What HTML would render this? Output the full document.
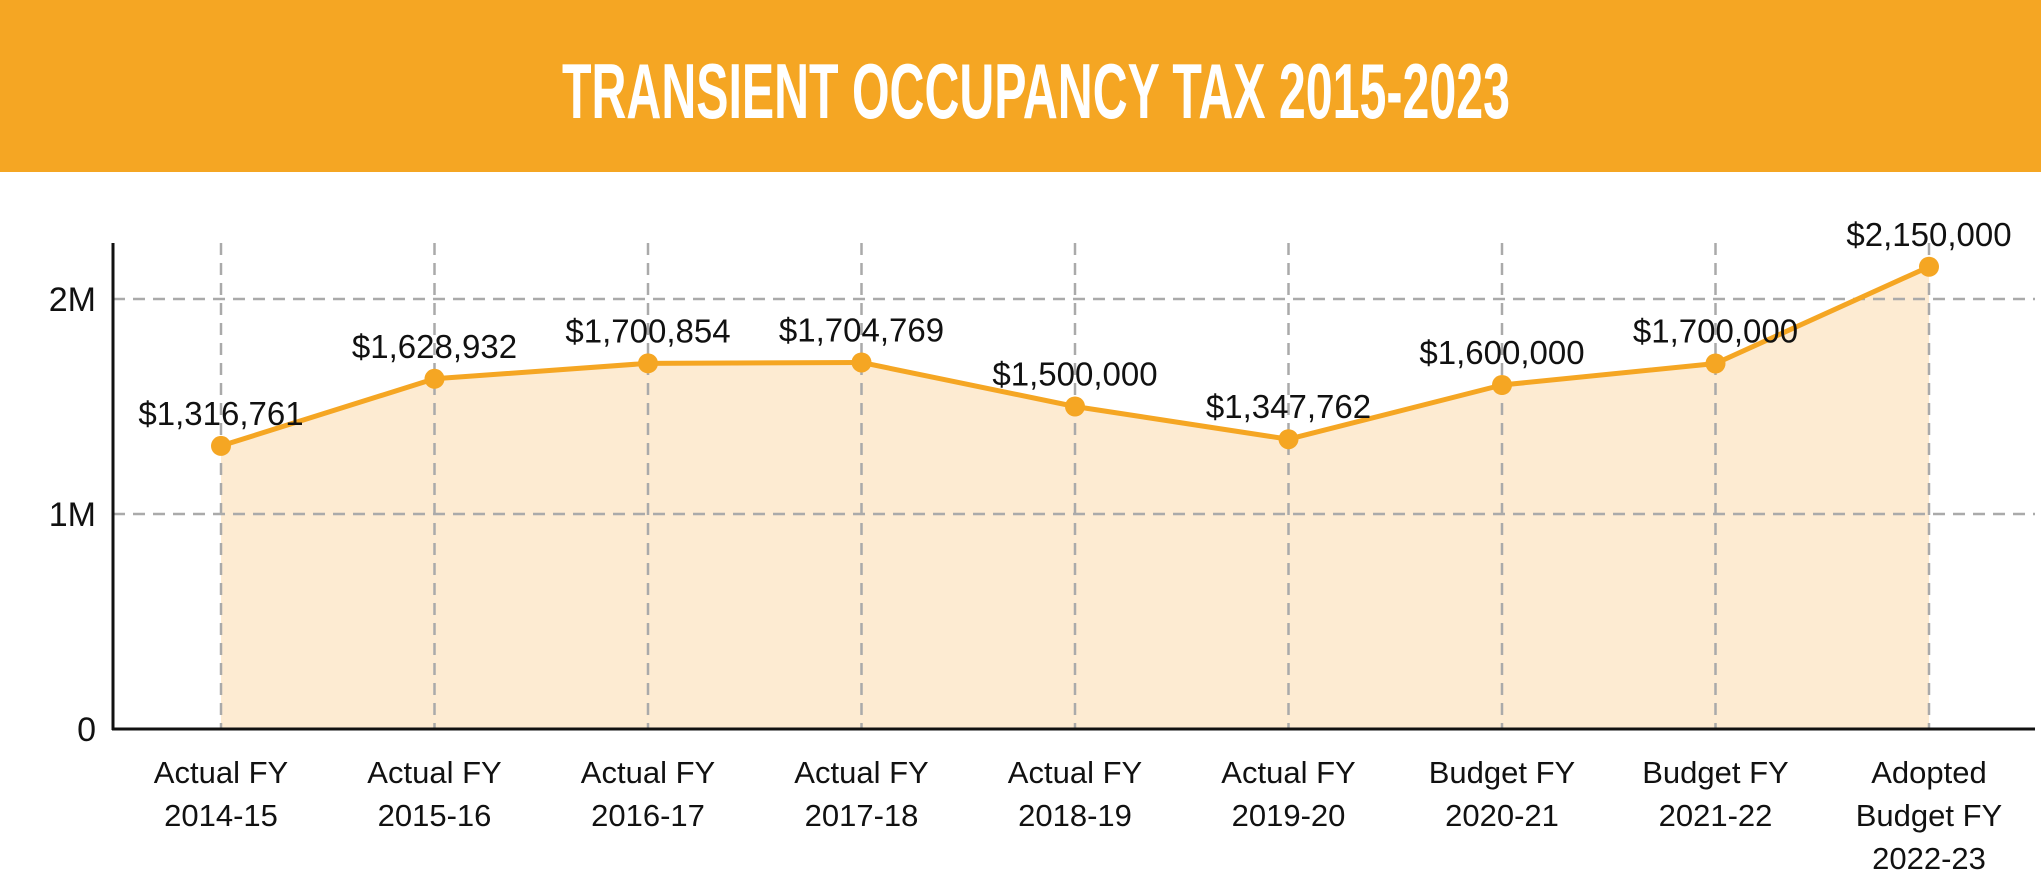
<!DOCTYPE html>
<html><head><meta charset="utf-8"><style>
html,body{margin:0;padding:0;background:#fff;}
svg{display:block;font-family:"Liberation Sans",sans-serif;}
</style></head><body>
<svg id="chart" width="2041" height="893" viewBox="0 0 2041 893" xmlns="http://www.w3.org/2000/svg">
<rect x="0" y="0" width="2041" height="172" fill="#F5A623"/>
<text x="562" y="118" font-size="78" font-weight="bold" fill="#fff" textLength="948" lengthAdjust="spacingAndGlyphs">TRANSIENT OCCUPANCY TAX 2015-2023</text>
<g id="area"></g><g id="grid"></g><g id="axes"></g><g id="series"></g><g id="labels"></g>
</svg>
<script>
const categories = [["Actual FY","2014-15"],["Actual FY","2015-16"],["Actual FY","2016-17"],["Actual FY","2017-18"],["Actual  FY","2018-19"],["Actual FY","2019-20"],["Budget FY","2020-21"],["Budget FY","2021-22"],["Adopted","Budget FY","2022-23"]];
const values = [1316761,1628932,1700854,1704769,1500000,1347762,1600000,1700000,2150000];
const valueLabels = ["$1,316,761","$1,628,932","$1,700,854","$1,704,769","$1,500,000","$1,347,762","$1,600,000","$1,700,000","$2,150,000"];
const yTicks = [0,1000000,2000000];
const yTickLabels = ["0","1M","2M"];

const NS="http://www.w3.org/2000/svg";
const x0=221, dx=213.5, yZero=729, pxPerUnit=215/1000000;
const xScale=i=>x0+i*dx;
const yScale=v=>yZero-v*pxPerUnit;
function mk(tag,attrs,parent){const e=document.createElementNS(NS,tag);for(const k in attrs)e.setAttribute(k,attrs[k]);document.getElementById(parent).appendChild(e);return e;}

yTicks.forEach((t,i)=>{
  const y=yScale(t);
  if(t>0){const g=mk('line',{x1:113,x2:2035,y1:y,y2:y,stroke:'#aaa','stroke-width':2.5,'stroke-dasharray':'12 8'},'grid');
  
  }
  const tl=mk('text',{x:96,y:y+12,'font-size':34,'text-anchor':'end',fill:'#111'},'axes');
  tl.textContent=yTickLabels[i];
  
  
});
categories.forEach((c,i)=>{
  const x=xScale(i);
  const g=mk('line',{x1:x,x2:x,y1:243,y2:729,stroke:'#aaa','stroke-width':2.5,'stroke-dasharray':'12 8'},'grid');
  
  
  const t=mk('text',{x:x,'font-size':31,'text-anchor':'middle',fill:'#111'},'axes');
  
  
  c.forEach((ln,j)=>{const s=document.createElementNS(NS,'tspan');s.setAttribute('x',x);s.setAttribute('y',783+j*43);s.textContent=ln;t.appendChild(s);});
});
let pts=values.map((v,i)=>xScale(i)+','+yScale(v));
const area=mk('polygon',{points:xScale(0)+','+yZero+' '+pts.join(' ')+' '+xScale(values.length-1)+','+yZero,fill:'#FDEBD2'},'area');


const ax=mk('line',{x1:113,x2:113,y1:243,y2:730,stroke:'#111','stroke-width':3},'axes');


const bx=mk('line',{x1:112,x2:2035,y1:729,y2:729,stroke:'#111','stroke-width':3},'axes');


const line=mk('polyline',{points:pts.join(' '),fill:'none',stroke:'#F5A623','stroke-width':5,'stroke-linejoin':'round'},'series');


values.forEach((v,i)=>{
  const c=mk('circle',{cx:xScale(i),cy:yScale(v),r:10,fill:'#F5A623'},'series');
  
  
  const t=mk('text',{x:xScale(i),y:yScale(v)-21,'font-size':33,'text-anchor':'middle',fill:'#111'},'labels');
  t.textContent=valueLabels[i];
  
  
});
</script>
</body></html>
